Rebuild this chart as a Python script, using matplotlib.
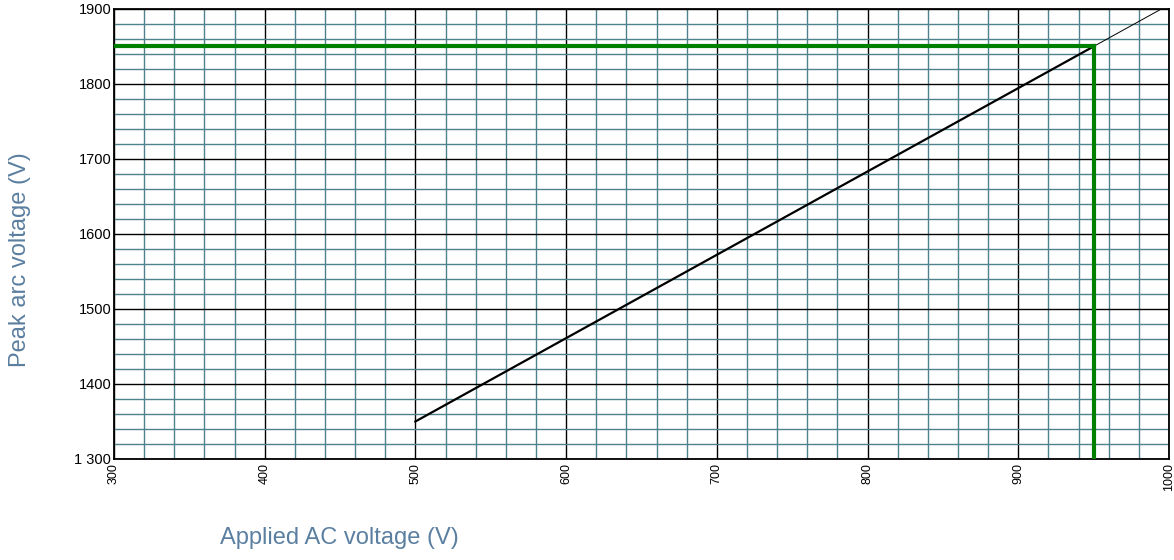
import numpy as np
import matplotlib
matplotlib.use("Agg")
import matplotlib.pyplot as plt
from matplotlib.ticker import MultipleLocator, FixedLocator

plt.rcParams['font.family'] = ['Liberation Sans', 'DejaVu Sans']

# Data
applied_v = [500, 950]          # thick curve
peak_v = [1350, 1850]
ext_applied = [950, 995]        # thin extension
ext_peak = [1850, 1900]
marker_x = 950                  # green reading lines
marker_y = 1850

x_ticks = [300, 400, 500, 600, 700, 800, 900, 1000]
y_ticks = [1300, 1400, 1500, 1600, 1700, 1800, 1900]
y_labels = ['1 300', '1400', '1500', '1600', '1700', '1800', '1900']

label_col = '#5b7fa0'
grid_col = '#4f838c'

fig = plt.figure(figsize=(11.74, 5.6), dpi=100)
ax = fig.add_axes([0.0971, 0.1804, 0.8986, 0.8036])

ax.set_xlim(300, 1000)
ax.set_ylim(1300, 1900)

ax.xaxis.set_major_locator(FixedLocator(x_ticks))
ax.yaxis.set_major_locator(FixedLocator(y_ticks))
ax.xaxis.set_minor_locator(MultipleLocator(20))
ax.yaxis.set_minor_locator(MultipleLocator(20))
ax.set_yticklabels(y_labels)
ax.set_xticklabels([str(v) for v in x_ticks], rotation=90)

ax.grid(which='minor', color=grid_col, linewidth=1.0)
ax.grid(which='major', color='black', linewidth=1.0)
ax.set_axisbelow(True)
ax.tick_params(which='both', length=0)
ax.tick_params(axis='y', labelsize=10.5, pad=2)
ax.tick_params(axis='x', labelsize=9, pad=3)
for s in ax.spines.values():
    s.set_linewidth(1.3)

ax.plot(ext_applied, ext_peak, color='black', linewidth=0.7, zorder=3)
ax.plot(applied_v, peak_v, color='black', linewidth=1.6, zorder=4)
ax.plot([300, marker_x], [marker_y, marker_y], color='#008000', linewidth=3, zorder=5)
ax.plot([marker_x, marker_x], [1300, marker_y], color='#008000', linewidth=3, zorder=5)

fig.text(0.017, 0.536, 'Peak arc voltage (V)', rotation=90, color=label_col,
         fontsize=17, ha='center', va='center')
fig.text(0.1874, 0.039, 'Applied AC voltage (V)', color=label_col,
         fontsize=17, ha='left', va='center')

fig.savefig('out.png', dpi=100)
